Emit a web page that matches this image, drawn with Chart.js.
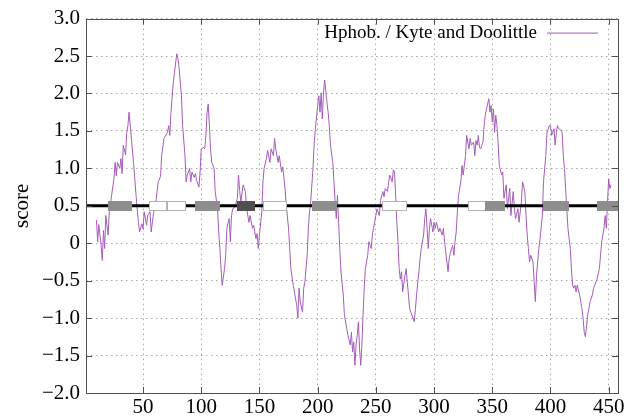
<!DOCTYPE html>
<html>
<head>
<meta charset="utf-8">
<script src="https://cdn.jsdelivr.net/npm/chart.js@4/dist/chart.umd.min.js"></script>
<style>
  body { margin: 0; background: #fff; }
  #wrap { width: 627px; height: 418px; }
</style>
</head>
<body>
<div id="wrap"><canvas id="grafico"></canvas></div>
<script>
// residue positions and Kyte-Doolittle scores
const resX = [
  10, 11, 12, 14, 15, 16, 17, 18, 20, 21,
  23, 25, 26, 27, 28, 30, 31, 32, 33, 35,
  36, 37, 38, 40, 42, 44, 46, 47, 49, 50,
  51, 53, 54, 56, 57, 59, 61, 63, 65, 66,
  68, 71, 72, 73, 74, 76, 77, 79, 80, 81,
  83, 84, 86, 87, 88, 90, 91, 92, 94, 95,
  96, 98, 99, 100, 102, 103, 104, 105, 106, 107,
  108, 109, 111, 112, 114, 115, 116, 117, 118, 120,
  121, 122, 124, 125, 126, 127, 129, 131, 132, 133,
  134, 136, 138, 139, 141, 142, 144, 145, 147, 148,
  149, 150, 152, 153, 154, 156, 157, 159, 160, 162,
  163, 164, 166, 167, 169, 170, 172, 173, 175, 176,
  177, 179, 180, 182, 183, 184, 185, 187, 188, 189,
  191, 192, 193, 194, 196, 197, 198, 200, 201, 202,
  203, 204, 205, 206, 208, 209, 210, 211, 213, 214,
  215, 216, 217, 218, 219, 220, 222, 223, 225, 226,
  228, 229, 230, 231, 232, 233, 234, 235, 236, 237,
  238, 239, 240, 241, 243, 244, 246, 247, 248, 250,
  251, 253, 254, 256, 257, 258, 260, 261, 262, 264,
  265, 266, 267, 268, 269, 270, 271, 272, 273, 275,
  276, 277, 278, 279, 280, 281, 283, 284, 285, 286,
  287, 288, 289, 291, 292, 293, 294, 295, 296, 297,
  299, 300, 301, 302, 304, 305, 307, 308, 309, 311,
  312, 313, 315, 316, 317, 318, 319, 320, 321, 323,
  324, 325, 327, 328, 330, 331, 332, 334, 335, 336,
  337, 338, 339, 340, 342, 343, 344, 345, 347, 348,
  349, 350, 351, 352, 353, 354, 355, 356, 358, 359,
  360, 362, 363, 365, 366, 368, 369, 370, 372, 373,
  375, 376, 378, 379, 380, 381, 382, 383, 385, 386,
  387, 388, 389, 390, 391, 393, 394, 396, 397, 399,
  400, 401, 403, 404, 405, 406, 407, 409, 410, 411,
  412, 413, 414, 415, 417, 418, 419, 420, 421, 422,
  423, 425, 426, 427, 428, 429, 430, 431, 432, 433,
  434, 436, 437, 439, 440, 442, 443, 444, 446, 447,
  448, 449, 450, 451, 452
];
const score = [
  0.31, 0.02, 0.25, -0.03, -0.23, 0.17, -0.07, 0.37, 0.11, 0.42,
  0.64, 0.86, 1.08, 0.90, 1.08, 1.00, 1.13, 0.93, 1.31, 1.18,
  1.48, 1.57, 1.75, 1.40, 1.04, 0.64, 0.28, 0.15, 0.26, 0.19,
  0.42, 0.24, 0.37, 0.42, 0.15, 0.40, 0.55, 0.82, 0.89, 1.17,
  1.40, 1.48, 1.57, 1.44, 1.75, 2.15, 2.28, 2.53, 2.47, 2.33,
  1.97, 1.57, 1.17, 0.82, 0.91, 1.00, 0.82, 0.95, 0.88, 0.93,
  0.84, 0.75, 0.95, 1.26, 1.28, 1.26, 1.44, 1.75, 1.86, 1.57,
  1.26, 1.08, 1.00, 0.69, 0.46, 0.15, -0.07, -0.34, -0.56, -0.34,
  -0.16, 0.20, 0.33, 0.02, 0.37, 0.46, 0.48, 0.60, 0.91, 0.70,
  0.55, 0.78, 0.69, 0.46, 0.28, 0.37, 0.20, 0.24, 0.06, 0.13,
  -0.07, 0.11, 0.42, 0.82, 1.00, 1.13, 1.24, 1.08, 1.26, 1.17,
  1.40, 1.26, 1.08, 1.17, 0.95, 1.02, 0.73, 0.51, 0.20, -0.07,
  -0.34, -0.56, -0.65, -0.83, -1.00, -0.60, -0.78, -0.92, -0.60, -0.52,
  -0.16, 0.20, 0.42, 0.55, 1.00, 1.33, 1.52, 1.84, 1.97, 1.75,
  2.01, 1.66, 2.01, 2.18, 1.88, 1.75, 1.57, 1.31, 1.08, 0.82,
  0.55, 0.33, 0.64, 0.28, -0.07, -0.38, -0.69, -0.96, -1.14, -1.23,
  -1.36, -1.19, -1.45, -1.32, -1.63, -1.36, -1.23, -1.05, -1.41, -1.63,
  -1.36, -0.96, -0.60, -0.34, -0.16, 0.02, -0.07, 0.11, 0.20, 0.37,
  0.46, 0.37, 0.57, 0.69, 0.62, 0.73, 0.69, 0.82, 0.91, 0.82,
  0.98, 0.95, 0.64, 0.28, 0.02, -0.34, -0.48, -0.38, -0.65, -0.43,
  -0.34, -0.52, -0.69, -0.87, -0.92, -0.96, -1.05, -0.87, -0.69, -0.52,
  -0.38, -0.20, -0.07, 0.11, 0.33, 0.46, 0.20, -0.07, 0.20, 0.33,
  0.15, 0.28, 0.20, 0.28, 0.15, 0.20, 0.11, 0.20, 0.02, -0.25,
  -0.38, -0.20, -0.07, -0.03, -0.16, 0.02, 0.15, 0.42, 0.64, 0.82,
  1.04, 0.91, 1.17, 1.44, 1.26, 1.40, 1.31, 1.35, 1.17, 1.37,
  1.31, 1.44, 1.28, 1.26, 1.35, 1.57, 1.71, 1.79, 1.93, 1.75,
  1.84, 1.62, 1.79, 1.48, 1.71, 1.57, 1.35, 1.04, 0.91, 0.95,
  0.60, 0.78, 0.46, 0.73, 0.37, 0.69, 0.46, 0.33, 0.46, 0.28,
  0.55, 0.82, 0.69, 0.37, 0.11, -0.07, -0.25, -0.16, -0.25, -0.52,
  -0.78, -0.43, -0.25, -0.07, 0.05, 0.37, 0.82, 1.17, 1.48, 1.57,
  1.57, 1.44, 1.53, 1.31, 1.48, 1.57, 1.53, 1.51, 1.48, 1.17,
  1.00, 0.73, 0.46, 0.20, -0.07, -0.34, -0.56, -0.60, -0.56, -0.65,
  -0.56, -0.69, -0.78, -0.87, -1.00, -1.19, -1.25, -1.10, -0.96, -0.87,
  -0.78, -0.69, -0.60, -0.52, -0.48, -0.34, -0.16, 0.02, 0.20, 0.37,
  0.20, 0.55, 0.86, 0.73, 0.78
];

// topology segments drawn on the 0.5 line
const segStart = [20, 55, 71, 95, 131, 153, 195, 255, 329, 344, 394, 440];
const segEnd   = [40, 70, 86, 115, 145, 173, 216, 276, 344, 360, 415, 460];
const segKind  = ['tm', 'out', 'out', 'tm', 'dark', 'out', 'tm', 'out', 'out', 'tm', 'tm', 'tm'];

const xTicks = [50, 100, 150, 200, 250, 300, 350, 400, 450];
const yTickLabels = ['\u22122.0', '\u22121.5', '\u22121.0', '\u22120.5', '0', '0.5', '1.0', '1.5', '2.0', '2.5', '3.0'];
const xRange = [1, 458];
const yRange = [-2, 3];
const baseLevel = 0.5;

const serif = "'Liberation Serif', 'DejaVu Serif', serif";
const purple = '#a45cb8';
const frame = '#505050';

const gnuplotFrame = {
  id: 'gnuplotFrame',
  afterDatasetsDraw(chart) {
    const ctx = chart.ctx, a = chart.chartArea;
    const xs = chart.scales.x, ys = chart.scales.y;
    const h = 0.062;
    ctx.save();
    ctx.beginPath();
    ctx.rect(a.left, a.top, a.right - a.left, a.bottom - a.top);
    ctx.clip();
    for (let i = 0; i < segStart.length; i++) {
      const x0 = Math.round(xs.getPixelForValue(segStart[i])) + 0.5;
      const x1 = Math.round(xs.getPixelForValue(segEnd[i])) + 0.5;
      const y0 = Math.round(ys.getPixelForValue(baseLevel + h)) + 0.5;
      const y1 = Math.round(ys.getPixelForValue(baseLevel - h)) + 0.5;
      if (segKind[i] === 'out') {
        ctx.fillStyle = '#ffffff';
        ctx.strokeStyle = '#b4b4b4';
      } else if (segKind[i] === 'dark') {
        ctx.fillStyle = '#505050';
        ctx.strokeStyle = '#505050';
      } else {
        ctx.fillStyle = '#8e8e8e';
        ctx.strokeStyle = '#8e8e8e';
      }
      ctx.lineWidth = 1;
      ctx.fillRect(x0, y0, x1 - x0, y1 - y0);
      ctx.strokeRect(x0, y0, x1 - x0, y1 - y0);
    }
    ctx.restore();
  },
  afterDraw(chart) {
    const ctx = chart.ctx, a = chart.chartArea;
    const xs = chart.scales.x, ys = chart.scales.y;
    ctx.save();
    ctx.strokeStyle = frame;
    ctx.lineWidth = 1;
    ctx.beginPath();
    const t = 6;
    xTicks.forEach(v => {
      const px = Math.round(xs.getPixelForValue(v)) + 0.5;
      ctx.moveTo(px, a.bottom); ctx.lineTo(px, a.bottom - t);
      ctx.moveTo(px, a.top); ctx.lineTo(px, a.top + t);
    });
    ys.ticks.forEach(tk => {
      const py = Math.round(ys.getPixelForValue(tk.value)) + 0.5;
      ctx.moveTo(a.left, py); ctx.lineTo(a.left + t, py);
      ctx.moveTo(a.right, py); ctx.lineTo(a.right - t, py);
    });
    ctx.stroke();
    ctx.strokeRect(Math.round(a.left) + 0.5, Math.round(a.top) + 0.5,
      Math.round(a.right - a.left), Math.round(a.bottom - a.top));

    // key, gnuplot style: text then line sample
    ctx.font = '19px ' + serif;
    ctx.fillStyle = '#000';
    ctx.textAlign = 'right';
    ctx.textBaseline = 'middle';
    const ky = a.top + 14;
    ctx.fillText(chart.data.datasets[0].label, a.right - 81, ky);
    ctx.strokeStyle = purple;
    ctx.beginPath();
    ctx.moveTo(a.right - 71, ky + 0.5);
    ctx.lineTo(a.right - 20, ky + 0.5);
    ctx.stroke();
    ctx.restore();
  }
};

document.addEventListener("DOMContentLoaded", function () {

    new Chart(document.getElementById("grafico"), {
        type: "line",
        data: {
            datasets: [
                {
                    label: "Hphob. / Kyte and Doolittle",
                    data: resX.map((x, i) => ({ x: x, y: score[i] })),
                    borderColor: purple,
                    borderWidth: 1,
                    pointRadius: 0,
                    tension: 0,
                    order: 3
                },
                {
                    label: "base",
                    data: [{ x: xRange[0], y: baseLevel }, { x: xRange[1], y: baseLevel }],
                    borderColor: '#000',
                    borderWidth: 3,
                    pointRadius: 0,
                    order: 2
                }
            ]
        },
        options: {
            responsive: true,
            maintainAspectRatio: false,
            animation: false,
            layout: { padding: { top: 18, right: 9, left: 0, bottom: 0 } },
            plugins: {
                legend: { display: false },
                tooltip: { enabled: false }
            },
            scales: {
                x: {
                    type: 'linear',
                    min: xRange[0],
                    max: xRange[1],
                    afterBuildTicks: s => { s.ticks = xTicks.map(v => ({ value: v })); },
                    afterFit: s => { s.height = 25; },
                    grid: { color: '#a8a8a8', lineWidth: 1, drawTicks: false },
                    border: { display: false, dash: [1.5, 3.5] },
                    ticks: {
                        color: '#000',
                        padding: 2,
                        maxRotation: 0,
                        font: { family: serif, size: 21 }
                    }
                },
                y: {
                    min: yRange[0],
                    max: yRange[1],
                    afterFit: s => { s.width = 86; },
                    grid: { color: '#a8a8a8', lineWidth: 1, drawTicks: false },
                    border: { display: false, dash: [1.5, 3.5] },
                    title: {
                        display: true,
                        text: 'score',
                        color: '#000',
                        padding: { top: 10, bottom: 0 },
                        font: { family: serif, size: 21 }
                    },
                    ticks: {
                        stepSize: 0.5,
                        color: '#000',
                        padding: 6,
                        font: { family: serif, size: 21 },
                        callback: (v, i) => yTickLabels[i]
                    }
                }
            }
        },
        plugins: [gnuplotFrame]
    });

});
</script>
</body>
</html>
